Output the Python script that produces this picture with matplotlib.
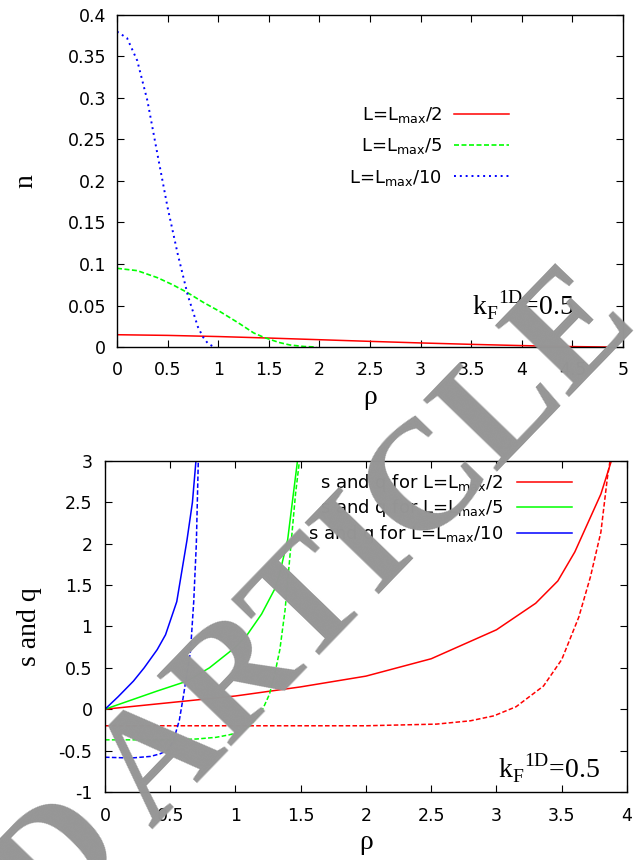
import numpy as np
import matplotlib
matplotlib.use('Agg')
import matplotlib.pyplot as plt
from matplotlib.ticker import MultipleLocator, FormatStrFormatter

plt.rcParams['axes.unicode_minus']=False
plt.rcParams['font.family']=['DejaVu Sans']
plt.rcParams['mathtext.fontset']='custom'

# top panel: density n(rho)
rho_a=[0, 0.5, 1.0, 1.5, 2.0, 2.5, 3.0, 3.5, 4.0, 4.5, 4.85]
n_a=[0.0148, 0.0140, 0.0126, 0.0108, 0.0088, 0.0068, 0.0049, 0.0032, 0.0017, 0.0005, 0.0]
rho_b=[0, 0.2, 0.4, 0.55, 0.69, 0.85, 1.02, 1.2, 1.35, 1.45, 1.6, 1.71, 1.85, 1.97]
n_b=[0.0948, 0.092, 0.0835, 0.075, 0.066, 0.054, 0.0425, 0.029, 0.017, 0.0117, 0.0055, 0.0024, 0.0006, 0.0]
rho_c=[0, 0.1, 0.2, 0.3, 0.4, 0.5, 0.6, 0.7, 0.8, 0.85, 0.9, 0.96]
n_c=[0.38, 0.372, 0.345, 0.297, 0.232, 0.168, 0.112, 0.062, 0.024, 0.012, 0.004, 0.0]
top_labels=['L=L$_{\\mathregular{max}}$/2', 'L=L$_{\\mathregular{max}}$/5', 'L=L$_{\\mathregular{max}}$/10']

# bottom panel: s (solid) and q (dashed)
s_rho_a=[0, 0.5, 1.0, 1.5, 2.0, 2.5, 3.0, 3.3, 3.47, 3.6, 3.7, 3.8, 3.88]
s_a=[0, 0.08, 0.16, 0.27, 0.4, 0.61, 0.96, 1.28, 1.55, 1.9, 2.25, 2.6, 3.0]
q_rho_a=[0, 1.0, 2.0, 2.54, 2.8, 2.98, 3.15, 3.36, 3.5, 3.63, 3.72, 3.8, 3.85, 3.87]
q_a=[-0.2, -0.2, -0.2, -0.18, -0.14, -0.08, 0.03, 0.28, 0.6, 1.11, 1.6, 2.14, 2.8, 3.0]
s_rho_b=[0, 0.2, 0.4, 0.63, 0.8, 1.0, 1.09, 1.2, 1.3, 1.337, 1.4, 1.448, 1.475]
s_b=[0, 0.11, 0.22, 0.34, 0.5, 0.75, 0.9, 1.15, 1.45, 1.63, 2.05, 2.66, 3.0]
q_rho_b=[0, 0.5, 0.7, 0.85, 0.95, 1.05, 1.12, 1.2, 1.26, 1.3, 1.34, 1.38, 1.42, 1.46, 1.49]
q_b=[-0.37, -0.37, -0.36, -0.34, -0.31, -0.27, -0.18, -0.03, 0.18, 0.42, 0.72, 1.2, 1.9, 2.6, 3.0]
s_rho_c=[0, 0.1, 0.218, 0.3, 0.4, 0.464, 0.55, 0.628, 0.67, 0.697]
s_c=[0, 0.15, 0.34, 0.5, 0.72, 0.9, 1.3, 2.04, 2.5, 3.0]
q_rho_c=[0, 0.2, 0.35, 0.42, 0.49, 0.53, 0.57, 0.6, 0.63, 0.655, 0.68, 0.7, 0.715]
q_c=[-0.58, -0.59, -0.57, -0.54, -0.49, -0.35, -0.13, 0.15, 0.45, 0.7, 1.3, 2.0, 3.0]
bot_labels=['s and q for L=L$_{\\mathregular{max}}$/2', 's and q for L=L$_{\\mathregular{max}}$/5', 's and q for L=L$_{\\mathregular{max}}$/10']

RED='#ff0000'
GREEN='#00ff00'
BLUE='#0000ff'
SERIF='Liberation Serif'

def style(ax):
  ax.tick_params(direction='in', length=5, width=0.8, top=True, right=True, labelsize=12.5)
  for sp in ax.spines.values():
    sp.set_linewidth(1.0)
  ax.xaxis.set_major_formatter(FormatStrFormatter('%g'))
  ax.yaxis.set_major_formatter(FormatStrFormatter('%g'))

fig=plt.figure(figsize=(6.39, 8.6), dpi=100, facecolor='white')

ax1=fig.add_axes((0.1831, 0.5965, 0.7919, 0.3861))
ax1.plot(rho_a, n_a, color=RED, lw=1.1, label=top_labels[0])
ax1.plot(rho_b, n_b, color=GREEN, lw=1.2, ls=(0, (3, 1.5)), label=top_labels[1])
ax1.plot(rho_c, n_c, color=BLUE, lw=1.4, ls=(0, (1, 2)), label=top_labels[2])
ax1.set_xlim(0, 5)
ax1.set_ylim(0, 0.4)
ax1.xaxis.set_major_locator(MultipleLocator(0.5))
ax1.yaxis.set_major_locator(MultipleLocator(0.05))
style(ax1)
ax1.tick_params(axis='x', pad=10)
ax1.tick_params(axis='y', pad=8)
ax1.set_xlabel('ρ', family=SERIF, size=20)
ax1.set_ylabel('n', family=SERIF, size=20)
ax1.xaxis.set_label_coords(0.5, -0.114)
ax1.yaxis.set_label_coords(-0.156, 0.5)
ax1.legend(loc='upper right', bbox_to_anchor=(0.775, 0.728), frameon=False, markerfirst=False,
           fontsize=13, handlelength=3.05, handletextpad=0.66, labelspacing=0.62,
           borderpad=0, borderaxespad=0)
ax1.text(0.7016, 0.0964, 'k$_{\\mathregular{F}}$$^{\\mathregular{1D}}$=0.5', transform=ax1.transAxes,
         family=SERIF, size=20, ha='left', va='baseline')

ax2=fig.add_axes((0.1643, 0.0791, 0.8169, 0.3849))
ax2.plot(s_rho_a, s_a, color=RED, lw=1.1, label=bot_labels[0])
ax2.plot(s_rho_b, s_b, color=GREEN, lw=1.1, label=bot_labels[1])
ax2.plot(s_rho_c, s_c, color=BLUE, lw=1.1, label=bot_labels[2])
ax2.plot(q_rho_a, q_a, color=RED, lw=1.1, ls=(0, (3, 1.5)))
ax2.plot(q_rho_b, q_b, color=GREEN, lw=1.1, ls=(0, (3, 1.5)))
ax2.plot(q_rho_c, q_c, color=BLUE, lw=1.1, ls=(0, (3, 1.5)))
ax2.set_xlim(0, 4)
ax2.set_ylim(-1, 3)
ax2.xaxis.set_major_locator(MultipleLocator(0.5))
ax2.yaxis.set_major_locator(MultipleLocator(0.5))
style(ax2)
ax2.tick_params(axis='x', pad=11)
ax2.tick_params(axis='y', pad=9)
ax2.set_xlabel('ρ', family=SERIF, size=20)
ax2.set_ylabel('s and q', family=SERIF, size=20)
ax2.xaxis.set_label_coords(0.5, -0.115)
ax2.yaxis.set_label_coords(-0.1207, 0.5)
ax2.legend(loc='upper right', bbox_to_anchor=(0.895, 0.967), frameon=False, markerfirst=False,
           fontsize=13, handlelength=3.05, handletextpad=0.78, labelspacing=0.2,
           borderpad=0, borderaxespad=0)
ax2.text(0.753, 0.0423, 'k$_{\\mathregular{F}}$$^{\\mathregular{1D}}$=0.5', transform=ax2.transAxes,
         family=SERIF, size=20, ha='left', va='baseline')

# watermark
fig.text(1.0016, 0.6233, 'RETRACTED ARTICLE', family=SERIF, size=112, weight='bold', color='#969696',
         rotation=46, rotation_mode='anchor', ha='right', va='baseline', zorder=10)

fig.savefig('out.png')
